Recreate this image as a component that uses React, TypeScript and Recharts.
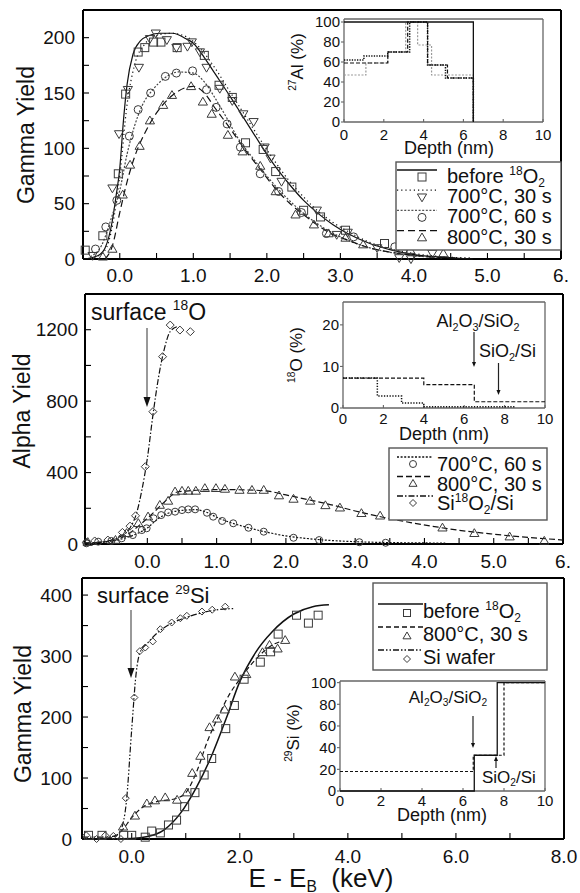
import React from "react";
import { ComposedChart, Scatter, XAxis, YAxis } from "recharts";

const FONT = '"Liberation Sans", Arial, Helvetica, sans-serif';
const INK = "#111";
const MARK = "#3a3a3a";

type Pt = [number, number];

// ---- top panel: 27Al(p,g) yield vs E - E_R (keV)
const topBefore: Pt[] = [[-0.47, 8], [-0.23, 21], [-0.02, 77], [0.08, 149], [0.25, 187], [0.34, 191], [0.46, 196], [0.56, 196], [0.78, 191], [1.15, 184], [1.35, 157], [1.53, 146], [1.71, 105], [1.95, 99], [2.12, 79], [2.34, 65], [2.5, 44], [2.73, 38], [3.07, 26], [3.6, 14], [3.85, 9]];
const top700s30: Pt[] = [[-0.37, 3], [-0.1, 64], [-0.01, 113], [0.11, 153], [0.26, 173], [0.41, 199], [0.49, 204], [0.64, 198], [0.77, 191], [0.92, 192], [0.98, 196], [1.09, 187], [1.18, 173], [1.36, 154], [1.53, 143], [1.68, 131], [1.82, 124], [1.97, 101], [2.05, 91], [2.2, 70], [2.68, 44], [2.95, 22], [3.1, 24], [3.5, 10], [3.8, 1], [3.96, 0], [4.25, 5]];
const top700s60: Pt[] = [[-0.33, 9], [-0.19, 29], [-0.04, 53], [0.13, 111], [0.25, 135], [0.42, 150], [0.62, 165], [0.77, 168], [0.99, 170], [1.18, 153], [1.31, 137], [1.46, 122], [1.64, 101], [1.91, 77], [2.16, 61], [2.47, 42], [2.81, 23], [3.18, 20], [3.74, 11]];
const top800s30: Pt[] = [[-0.23, 2], [-0.1, 9], [0.04, 58], [0.14, 85], [0.27, 102], [0.41, 125], [0.59, 139], [0.71, 148], [0.97, 156], [1.13, 142], [1.25, 131], [1.47, 112], [1.67, 97], [1.91, 84], [2.12, 61], [2.39, 40], [2.64, 31], [2.84, 23], [3.07, 19], [3.31, 13], [3.95, 8], [4.4, 5]];
const topBeforeFit: Pt[] = [[-0.5, 0], [-0.3, 3], [-0.2, 10], [-0.1, 35], [-0.05, 57], [0, 82], [0.05, 125], [0.1, 158], [0.18, 185], [0.28, 197], [0.4, 202], [0.55, 204], [0.72, 204], [0.9, 199], [1.0, 195], [1.15, 182], [1.3, 167], [1.5, 147], [1.7, 126], [1.9, 105], [2.1, 85], [2.3, 68], [2.5, 53], [2.7, 41], [2.9, 31], [3.1, 23], [3.4, 14], [3.7, 8], [4.0, 4], [4.4, 1.5], [4.8, 0]];
const top700s30Fit: Pt[] = [[-0.4, 0], [-0.2, 8], [-0.1, 30], [0, 75], [0.1, 140], [0.2, 175], [0.35, 195], [0.5, 202], [0.7, 204], [0.9, 201], [1.1, 190], [1.3, 172], [1.5, 151], [1.7, 130], [1.9, 109], [2.1, 89], [2.3, 71], [2.5, 56], [2.7, 43], [2.9, 33], [3.1, 25], [3.4, 15], [3.7, 9], [4.0, 5], [4.4, 2], [4.8, 1]];
const top700s60Fit: Pt[] = [[-0.4, 2], [-0.25, 12], [-0.1, 40], [0, 62], [0.1, 95], [0.2, 120], [0.3, 138], [0.45, 153], [0.6, 163], [0.8, 169], [1.0, 168], [1.15, 160], [1.3, 145], [1.45, 128], [1.6, 110], [1.8, 92], [2.0, 75], [2.2, 60], [2.4, 47], [2.6, 36], [2.8, 27], [3.0, 20], [3.3, 12], [3.6, 7], [4.0, 3], [4.4, 1]];
const top800s30Fit: Pt[] = [[-0.2, 0], [-0.1, 12], [0, 42], [0.1, 70], [0.2, 92], [0.35, 115], [0.5, 132], [0.7, 147], [0.9, 155], [1.0, 156], [1.15, 150], [1.3, 136], [1.5, 118], [1.7, 99], [1.9, 82], [2.1, 65], [2.3, 51], [2.5, 40], [2.7, 30], [2.9, 22], [3.1, 17], [3.4, 10], [3.8, 5], [4.2, 2], [4.6, 1]];

// ---- middle panel: 18O(p,a) yield
const midSiO2: Pt[] = [[-0.88, 10], [-0.76, 17], [-0.57, 22], [-0.36, 65], [-0.25, 100], [-0.17, 158], [-0.03, 433], [0.08, 741], [0.22, 1049], [0.33, 1226], [0.47, 1198], [0.62, 1189]];
const mid800s30: Pt[] = [[-0.86, 10], [-0.46, 22], [-0.3, 60], [-0.13, 116], [0.01, 153], [0.18, 218], [0.3, 241], [0.4, 293], [0.5, 297], [0.59, 297], [0.7, 297], [0.83, 312], [0.99, 312], [1.12, 308], [1.33, 302], [1.51, 302], [1.68, 302], [1.9, 271], [2.11, 252], [2.35, 241], [2.57, 216], [2.78, 203], [3.09, 172], [3.36, 158], [4.26, 91], [4.72, 60], [5.23, 41], [5.73, 17]];
const mid700s60: Pt[] = [[-0.88, 4], [-0.71, 13], [-0.52, 17], [-0.37, 32], [-0.21, 50], [-0.08, 78], [-0.01, 88], [0.09, 144], [0.2, 162], [0.3, 177], [0.4, 181], [0.5, 190], [0.59, 194], [0.69, 194], [0.86, 175], [0.95, 153], [1.08, 129], [1.24, 116], [1.46, 91], [1.68, 69], [2.11, 35], [2.48, 22], [3.06, 10], [3.44, 7]];
const midSiO2Fit: Pt[] = [[-0.9, 5], [-0.6, 15], [-0.4, 40], [-0.25, 90], [-0.15, 180], [-0.08, 300], [0, 480], [0.08, 720], [0.16, 930], [0.25, 1100], [0.33, 1190], [0.45, 1220]];
const mid800s30Fit: Pt[] = [[-0.9, 5], [-0.5, 18], [-0.3, 50], [-0.1, 110], [0.1, 180], [0.3, 255], [0.42, 290], [0.6, 298], [1.0, 305], [1.4, 303], [1.7, 298], [2.0, 275], [2.3, 250], [2.6, 225], [3.0, 185], [3.4, 150], [3.8, 120], [4.2, 94], [4.6, 72], [5.0, 55], [5.4, 40], [5.8, 28], [6.0, 22]];
const mid700s60Fit: Pt[] = [[-0.9, 3], [-0.6, 12], [-0.4, 25], [-0.2, 50], [0, 90], [0.15, 140], [0.3, 172], [0.5, 188], [0.7, 192], [0.85, 178], [1.0, 150], [1.2, 120], [1.4, 97], [1.6, 77], [1.8, 60], [2.0, 45], [2.3, 31], [2.6, 21], [3.0, 13], [3.5, 8], [4.0, 6], [4.3, 5]];

// ---- bottom panel: 29Si(p,g) yield
const botBefore: Pt[] = [[-0.8, 6], [-0.55, 6], [-0.15, 6], [0.0, 6], [0.25, 3], [0.37, 13], [0.53, 10], [0.68, 23], [0.83, 31], [0.98, 53], [1.17, 76], [1.34, 105], [1.48, 132], [1.74, 181], [1.9, 219], [2.08, 262], [2.38, 290], [2.57, 307], [2.71, 336], [3.05, 367], [3.27, 354], [3.45, 367]];
const bot800s30: Pt[] = [[-0.16, 20], [0.06, 38], [0.28, 58], [0.43, 63], [0.62, 68], [0.84, 64], [1.02, 76], [1.12, 108], [1.27, 136], [1.44, 183], [1.58, 197], [1.72, 212], [1.91, 266], [2.12, 270], [2.42, 306], [2.55, 318], [2.7, 312], [2.84, 326]];
const botWafer: Pt[] = [[-0.84, 6], [-0.65, 0], [-0.49, 6], [-0.34, 5], [-0.2, 0], [-0.11, 67], [0.05, 232], [0.15, 308], [0.25, 314], [0.39, 324], [0.53, 344], [0.74, 355], [0.9, 362], [1.02, 366], [1.3, 373], [1.49, 376], [1.73, 381]];
const botBeforeFit: Pt[] = [[-0.92, 0], [0, 1], [0.3, 4], [0.6, 15], [0.9, 42], [1.2, 85], [1.5, 141], [1.75, 198], [2.0, 258], [2.3, 307], [2.6, 340], [3.0, 369], [3.35, 381], [3.65, 384]];
const bot800s30Fit: Pt[] = [[-0.92, 0], [-0.4, 2], [-0.2, 12], [0, 35], [0.2, 52], [0.5, 62], [0.8, 66], [1.0, 76], [1.2, 110], [1.4, 160], [1.6, 200], [1.8, 236], [2.0, 262], [2.3, 295], [2.6, 318], [2.8, 325]];
const botWaferFit: Pt[] = [[-0.92, 3], [-0.5, 3], [-0.3, 5], [-0.2, 15], [-0.1, 60], [0, 180], [0.08, 270], [0.15, 305], [0.3, 322], [0.5, 340], [0.7, 352], [1.0, 363], [1.3, 371], [1.6, 376], [1.9, 378]];

// ---- inset profiles (depth nm, %), step after each depth
const alBefore: Pt[] = [[0, 100], [6.5, 0]];
const al700s30: Pt[] = [[0, 62], [1.0, 66], [2.2, 70], [3.3, 100], [4.2, 57], [5.1, 44], [6.5, 0]];
const al700s60: Pt[] = [[0, 47], [1.1, 59], [2.2, 70], [3.1, 100], [3.7, 77], [4.4, 47], [6.5, 0]];
const al800s30: Pt[] = [[0, 59], [2.2, 70], [3.2, 100], [4.2, 57], [5.2, 44], [6.5, 0]];
const o800s30: Pt[] = [[0, 7.2], [4.0, 5.6], [6.5, 1.5], [10, 1.5]];
const o700s60: Pt[] = [[0, 7.2], [1.7, 2.9], [2.9, 1.2], [4.0, 0.3], [8.5, 0.3]];
const siBefore: Pt[] = [[0, 0], [6.55, 33], [7.67, 100], [10, 100]];
const si800s30: Pt[] = [[0, 18], [6.5, 33], [8.0, 100], [10, 100]];

// ---- ticks
const topXTicks = [-0.5, 0, 0.5, 1, 1.5, 2, 2.5, 3, 3.5, 4, 4.5, 5, 5.5, 6];
const topXLabels = [0, 1, 2, 3, 4, 5, 6];
const topYTicks = [0, 25, 50, 75, 100, 125, 150, 175, 200];
const topYLabels = [0, 50, 100, 150, 200];
const midYTicks = [0, 200, 400, 600, 800, 1000, 1200];
const midYLabels = [0, 400, 800, 1200];
const botXTicks = [0, 1, 2, 3, 4, 5, 6, 7, 8];
const botXLabels = [0, 2, 4, 6, 8];
const botYTicks = [0, 50, 100, 150, 200, 250, 300, 350, 400];
const botYLabels = [0, 100, 200, 300, 400];
const depthTicks = [0, 2, 4, 6, 8, 10];
const pctTicks = [0, 20, 40, 60, 80, 100];
const oPctTicks = [0, 10, 20];

const toXY = (pts: Pt[]) => pts.map(([x, y]) => ({ x, y }));

type Kind = "square" | "circle" | "triUp" | "triDown" | "diamond";

function Marker({ kind, cx, cy, s }: { kind: Kind; cx: number; cy: number; s: number }) {
  const h = s / 2;
  const st = { fill: "none", stroke: MARK, strokeWidth: 1 };
  if (kind === "square") return <rect x={cx - h} y={cy - h} width={s} height={s} {...st} />;
  if (kind === "circle") return <circle cx={cx} cy={cy} r={h} {...st} />;
  if (kind === "diamond") return <polygon points={`${cx},${cy - h} ${cx + h},${cy} ${cx},${cy + h} ${cx - h},${cy}`} {...st} />;
  const a = h * 1.15;
  if (kind === "triUp") return <polygon points={`${cx},${cy - a} ${cx + a},${cy + a * 0.7} ${cx - a},${cy + a * 0.7}`} {...st} />;
  return <polygon points={`${cx},${cy + a} ${cx + a},${cy - a * 0.7} ${cx - a},${cy - a * 0.7}`} {...st} />;
}

type MarkSeries = { pts: Pt[]; kind: Kind; size: number };
type Curve = { pts: Pt[]; dash?: string; color?: string; w?: number; joint?: "monotoneX" | "stepAfter" | "linear" };
type Box = { x: number; y: number; w: number; h: number };
type Rect = { l: number; t: number; r: number; b: number };

type PlotProps = {
  box: Box;
  plot: Rect;
  xd: [number, number];
  yd: [number, number];
  xTicks: number[];
  xLabels: number[];
  xFmt: (v: number) => string;
  yTicks: number[];
  yLabels: number[];
  fs: number;
  xLen: number;
  xGap: number;
  yLen: number;
  yGap: number;
  frame: string;
  frameW: number;
  marks?: MarkSeries[];
  curves?: Curve[];
};

const has = (list: number[], v: number) => list.some((m) => Math.abs(m - v) < 1e-9);

function Plot(p: PlotProps) {
  const { box, plot } = p;
  const leftW = plot.l - box.x;
  const rightW = box.x + box.w - plot.r;
  const topH = plot.t - box.y;
  const botH = box.y + box.h - plot.b;
  const line = { stroke: p.frame, strokeWidth: p.frameW };
  const tl = { stroke: p.frame, strokeWidth: 1.1 };
  return (
    <div style={{ position: "absolute", left: box.x, top: box.y, width: box.w, height: box.h }}>
      <ComposedChart width={box.w} height={box.h} margin={{ top: 0, right: 0, bottom: 0, left: 0 }}>
        <XAxis
          dataKey="x"
          type="number"
          domain={p.xd}
          ticks={p.xTicks}
          interval={0}
          height={botH}
          axisLine={line}
          tickLine={tl}
          tickSize={p.xLen}
          tickMargin={p.xGap}
          tick={(t: any) =>
            has(p.xLabels, t.payload.value) ? (
              <text x={t.x} y={t.y} dy="0.71em" textAnchor="middle" fontFamily={FONT} fontSize={p.fs} fill={INK}>
                {p.xFmt(t.payload.value)}
              </text>
            ) : (
              <g />
            )
          }
        />
        <XAxis xAxisId="t" orientation="top" type="number" domain={p.xd} height={topH} axisLine={line} tick={false} tickLine={false} />
        <YAxis
          dataKey="y"
          type="number"
          domain={p.yd}
          ticks={p.yTicks}
          interval={0}
          width={leftW}
          axisLine={line}
          tickLine={tl}
          tickSize={p.yLen}
          tickMargin={p.yGap}
          tick={(t: any) =>
            has(p.yLabels, t.payload.value) ? (
              <text x={t.x} y={t.y} dy="0.35em" textAnchor="end" fontFamily={FONT} fontSize={p.fs} fill={INK}>
                {t.payload.value}
              </text>
            ) : (
              <g />
            )
          }
        />
        <YAxis yAxisId="r" orientation="right" type="number" domain={p.yd} width={rightW} axisLine={line} tick={false} tickLine={false} />
        {(p.curves ?? []).map((c, i) => (
          <Scatter
            key={"c" + i}
            data={toXY(c.pts)}
            line={{ stroke: c.color ?? INK, strokeWidth: c.w ?? 1.2, strokeDasharray: c.dash }}
            lineJointType={c.joint ?? "monotoneX"}
            shape={() => <g />}
            isAnimationActive={false}
          />
        ))}
        {(p.marks ?? []).map((m, i) => (
          <Scatter
            key={"m" + i}
            data={toXY(m.pts)}
            shape={(s: any) => <Marker kind={m.kind} cx={s.cx} cy={s.cy} s={m.size} />}
            isAnimationActive={false}
          />
        ))}
      </ComposedChart>
    </div>
  );
}

// rich text: strings, ["^", sup] or ["_", sub]
type Part = string | [string, string];
function Rich({ parts, fs }: { parts: Part[]; fs: number }) {
  let shift = 0;
  return (
    <>
      {parts.map((p, i) => {
        if (typeof p === "string") {
          const dy = -shift;
          shift = 0;
          return (
            <tspan key={i} dy={dy} fontSize={fs}>
              {p}
            </tspan>
          );
        }
        const target = p[0] === "^" ? -0.42 * fs : 0.2 * fs;
        const dy = target - shift;
        shift = target;
        return (
          <tspan key={i} dy={dy} fontSize={fs * 0.6}>
            {p[1]}
          </tspan>
        );
      })}
    </>
  );
}

function Label({ x, y, parts, fs, anchor = "start", rotate = false }: { x: number; y: number; parts: Part[]; fs: number; anchor?: string; rotate?: boolean }) {
  return (
    <text
      x={x}
      y={y}
      textAnchor={anchor as any}
      fontFamily={FONT}
      fontSize={fs}
      fill={INK}
      style={{ whiteSpace: "pre" }}
      transform={rotate ? `rotate(-90 ${x} ${y})` : undefined}
    >
      <Rich parts={parts} fs={fs} />
    </text>
  );
}

function Arrow({ x, y1, y2, color = "#555", hw = 3.5, hl = 10 }: { x: number; y1: number; y2: number; color?: string; hw?: number; hl?: number }) {
  const d = y2 > y1 ? 1 : -1;
  return (
    <g>
      <line x1={x} y1={y1} x2={x} y2={y2 - d * hl * 0.6} stroke={color} strokeWidth={1.2} />
      <polygon points={`${x - hw},${y2 - d * hl} ${x + hw},${y2 - d * hl} ${x},${y2}`} fill="#111" />
    </g>
  );
}

type LegendRow = { parts: Part[]; kind: Kind; dash?: string; color?: string };
function LegendBox({ box, rows, step, lineY, markY, textY, lx1, lx2, mx, tx, ms, fs }: { box: Box; rows: LegendRow[]; step: number; lineY: number; markY: number; textY: number; lx1: number; lx2: number; mx: number; tx: number; ms: number; fs: number }) {
  return (
    <g>
      <rect x={box.x} y={box.y} width={box.w} height={box.h} fill="#fff" stroke="#555" strokeWidth={1.4} />
      {rows.map((r, i) => (
        <g key={i}>
          <line x1={lx1} x2={lx2} y1={lineY + i * step} y2={lineY + i * step} stroke={r.color ?? INK} strokeWidth={1.3} strokeDasharray={r.dash} />
          <Marker kind={r.kind} cx={mx} cy={markY + i * step} s={ms} />
          <Label x={tx} y={textY + i * step} parts={r.parts} fs={fs} />
        </g>
      ))}
    </g>
  );
}

const keV = (v: number) => (v === 6 ? "6." : v.toFixed(1));
const plain = (v: number) => String(v);

const DOT30 = "1.2 3";
const DOT60 = "2 1.6";
const DASH = "7 4";
const DASHDOT = "6 2 1.5 2";
const DASHDOTDOT = "6 2 1.5 2 1.5 2";

export default function App() {
  const mainTick = { fs: 19, xLen: -6, yLen: -6, frame: "#000", frameW: 2 };
  const insetTick = { fs: 15, xLen: -3, xGap: 10, yLen: 3, yGap: 1, frame: "#666", frameW: 1.3 };
  return (
    <div style={{ position: "absolute", left: 0, top: 0, width: 580, height: 893, background: "#fff", overflow: "hidden", fontFamily: FONT }}>
      {/* top panel */}
      <Plot
        box={{ x: 0, y: 0, w: 580, h: 300 }}
        plot={{ l: 83, t: 10, r: 561, b: 259 }}
        xd={[-0.5, 6]}
        yd={[0, 225]}
        xTicks={topXTicks}
        xLabels={topXLabels}
        xFmt={keV}
        yTicks={topYTicks}
        yLabels={topYLabels}
        {...mainTick}
        xGap={16}
        yGap={14}
        curves={[
          { pts: topBeforeFit },
          { pts: top700s30Fit, dash: DOT30 },
          { pts: top700s60Fit, dash: DOT60, color: "#444" },
          { pts: top800s30Fit, dash: DASH },
        ]}
        marks={[
          { pts: topBefore, kind: "square", size: 8 },
          { pts: top700s30, kind: "triDown", size: 8 },
          { pts: top700s60, kind: "circle", size: 8 },
          { pts: top800s30, kind: "triUp", size: 8 },
        ]}
      />
      {/* middle panel */}
      <Plot
        box={{ x: 0, y: 280, w: 580, h: 300 }}
        plot={{ l: 85, t: 294, r: 563, b: 544 }}
        xd={[-0.9, 6]}
        yd={[0, 1400]}
        xTicks={topXTicks}
        xLabels={topXLabels}
        xFmt={keV}
        yTicks={midYTicks}
        yLabels={midYLabels}
        {...mainTick}
        xGap={17}
        yGap={13}
        curves={[
          { pts: mid700s60Fit, dash: DOT60 },
          { pts: mid800s30Fit, dash: "6 3" },
          { pts: midSiO2Fit, dash: DASHDOT },
        ]}
        marks={[
          { pts: mid700s60, kind: "circle", size: 7 },
          { pts: mid800s30, kind: "triUp", size: 8 },
          { pts: midSiO2, kind: "diamond", size: 8 },
        ]}
      />
      {/* bottom panel */}
      <Plot
        box={{ x: 0, y: 565, w: 580, h: 318 }}
        plot={{ l: 82, t: 578, r: 564, b: 839 }}
        xd={[-0.92, 8]}
        yd={[0, 428]}
        xTicks={botXTicks}
        xLabels={botXLabels}
        xFmt={(v) => v.toFixed(1)}
        yTicks={botYTicks}
        yLabels={botYLabels}
        {...mainTick}
        xGap={17}
        yGap={16}
        curves={[
          { pts: botBeforeFit, w: 1.5 },
          { pts: bot800s30Fit, dash: "5 3" },
          { pts: botWaferFit, dash: DASHDOTDOT },
        ]}
        marks={[
          { pts: botBefore, kind: "square", size: 8 },
          { pts: bot800s30, kind: "triUp", size: 8 },
          { pts: botWafer, kind: "diamond", size: 7 },
        ]}
      />

      {/* insets */}
      <Plot
        box={{ x: 290, y: 0, w: 270, h: 160 }}
        plot={{ l: 344, t: 19, r: 543, b: 122 }}
        xd={[0, 10]}
        yd={[0, 103]}
        xTicks={depthTicks}
        xLabels={depthTicks}
        xFmt={plain}
        yTicks={pctTicks}
        yLabels={pctTicks}
        {...insetTick}
        curves={[
          { pts: al700s60, dash: "2 1.5", color: "#999", joint: "stepAfter" },
          { pts: al800s30, dash: "4 2", joint: "stepAfter" },
          { pts: al700s30, dash: "1.3 1.3", w: 1.5, joint: "stepAfter" },
          { pts: alBefore, w: 1.3, joint: "stepAfter" },
        ]}
      />
      <Plot
        box={{ x: 290, y: 290, w: 270, h: 150 }}
        plot={{ l: 343, t: 302, r: 545, b: 408 }}
        xd={[0, 10]}
        yd={[0, 25.5]}
        xTicks={depthTicks}
        xLabels={depthTicks}
        xFmt={plain}
        yTicks={oPctTicks}
        yLabels={oPctTicks}
        {...insetTick}
        xGap={8}
        curves={[
          { pts: o800s30, dash: "4 2", joint: "stepAfter" },
          { pts: o700s60, dash: "1.3 1.5", w: 1.5, joint: "stepAfter" },
        ]}
      />
      <Plot
        box={{ x: 290, y: 670, w: 270, h: 150 }}
        plot={{ l: 340, t: 681, r: 545, b: 791 }}
        xd={[0, 10]}
        yd={[0, 101.5]}
        xTicks={depthTicks}
        xLabels={depthTicks}
        xFmt={plain}
        yTicks={pctTicks}
        yLabels={pctTicks}
        {...insetTick}
        xGap={7}
        curves={[
          { pts: si800s30, dash: "3 2", joint: "stepAfter" },
          { pts: siBefore, w: 1.3, joint: "stepAfter" },
        ]}
      />

      {/* titles, annotations, legends */}
      <svg width={580} height={893} style={{ position: "absolute", left: 0, top: 0, pointerEvents: "none" }}>
        <Label x={34} y={135} parts={["Gamma Yield"]} fs={23} anchor="middle" rotate />
        <Label x={30} y={411} parts={["Alpha Yield"]} fs={23} anchor="middle" rotate />
        <Label x={31} y={714} parts={["Gamma Yield"]} fs={23} anchor="middle" rotate />
        <Label x={321} y={887} parts={["E - E", ["_", "B"], "  (keV)"]} fs={26} anchor="middle" />

        <Label x={303} y={62} parts={[["^", "27"], "Al (%)"]} fs={17} anchor="middle" rotate />
        <Label x={302} y={355} parts={[["^", "18"], "O (%)"]} fs={17} anchor="middle" rotate />
        <Label x={299} y={733} parts={[["^", "29"], "Si (%)"]} fs={17} anchor="middle" rotate />
        <Label x={449} y={154} parts={["Depth (nm)"]} fs={18} anchor="middle" />
        <Label x={444} y={439.5} parts={["Depth (nm)"]} fs={18} anchor="middle" />
        <Label x={442} y={821} parts={["Depth (nm)"]} fs={18} anchor="middle" />

        <Label x={91} y={320} parts={["surface ", ["^", "18"], "O"]} fs={23} />
        <Arrow x={147} y1={328} y2={407} />
        <Label x={97} y={603} parts={["surface ", ["^", "29"], "Si"]} fs={22} />
        <Arrow x={131} y1={610} y2={678} />

        <Label x={478} y={327} parts={["Al", ["_", "2"], "O", ["_", "3"], "/SiO", ["_", "2"]]} fs={18} anchor="middle" />
        <Arrow x={474} y1={332} y2={367} color="#222" hw={2} hl={5} />
        <Label x={479} y={357} parts={["SiO", ["_", "2"], "/Si"]} fs={18} />
        <Arrow x={498.5} y1={363} y2={395} color="#222" hw={2} hl={5} />

        <Label x={448} y={703} parts={["Al", ["_", "2"], "O", ["_", "3"], "/SiO", ["_", "2"]]} fs={17} anchor="middle" />
        <Arrow x={473} y1={716} y2={748} color="#222" hw={2} hl={5} />
        <Label x={482} y={783} parts={["SiO", ["_", "2"], "/Si"]} fs={17} />
        <Arrow x={496} y1={768} y2={756} color="#222" hw={2} hl={5} />

        <LegendBox
          box={{ x: 396, y: 162, w: 165, h: 88 }}
          step={20.2}
          lineY={170}
          markY={177}
          textY={183}
          lx1={397}
          lx2={437}
          mx={422}
          tx={447}
          ms={8}
          fs={20}
          rows={[
            { parts: ["before ", ["^", "18"], "O", ["_", "2"]], kind: "square" },
            { parts: ["700°C, 30 s"], kind: "triDown", dash: DOT30 },
            { parts: ["700°C, 60 s"], kind: "circle", dash: DOT60, color: "#555" },
            { parts: ["800°C, 30 s"], kind: "triUp", dash: DASH },
          ]}
        />
        <LegendBox
          box={{ x: 389, y: 448, w: 158, h: 72 }}
          step={19.5}
          lineY={457}
          markY={464}
          textY={471}
          lx1={397}
          lx2={433}
          mx={413}
          tx={437}
          ms={7}
          fs={20}
          rows={[
            { parts: ["700°C, 60 s"], kind: "circle", dash: DOT60 },
            { parts: ["800°C, 30 s"], kind: "triUp", dash: "6 3" },
            { parts: ["Si", ["^", "18"], "O", ["_", "2"], "/Si"], kind: "diamond", dash: DASHDOT },
          ]}
        />
        <LegendBox
          box={{ x: 373, y: 583, w: 174, h: 87 }}
          step={23}
          lineY={604}
          markY={613}
          textY={618}
          lx1={378}
          lx2={423}
          mx={407}
          tx={423}
          ms={7}
          fs={20}
          rows={[
            { parts: ["before ", ["^", "18"], "O", ["_", "2"]], kind: "square" },
            { parts: ["800°C, 30 s"], kind: "triUp", dash: "5 3" },
            { parts: ["Si wafer"], kind: "diamond", dash: DASHDOTDOT },
          ]}
        />
      </svg>
    </div>
  );
}
